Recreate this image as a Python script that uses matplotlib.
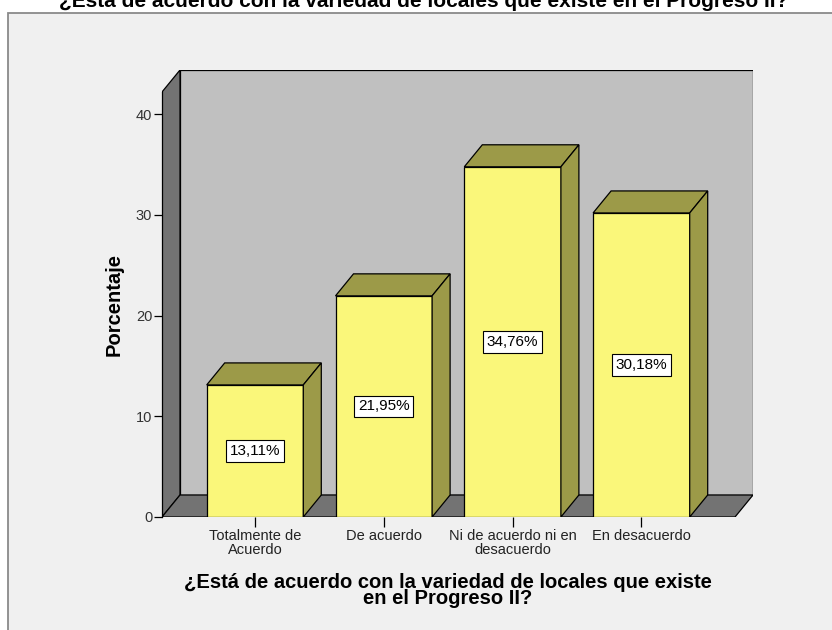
"""3D-style SPSS bar chart: agreement with the variety of shops in Progreso II."""

import matplotlib

matplotlib.use("Agg")
import matplotlib.pyplot as plt
from matplotlib.patches import Polygon, Rectangle

plt.rcParams["font.family"] = ["Liberation Sans", "DejaVu Sans"]

categories = [
    "Totalmente de\nAcuerdo",
    "De acuerdo",
    "Ni de acuerdo ni en\ndesacuerdo",
    "En desacuerdo",
]
percentages = [13.11, 21.95, 34.76, 30.18]
value_labels = ["13,11%", "21,95%", "34,76%", "30,18%"]
y_ticks = [0, 10, 20, 30, 40]

TITLE = "¿Está de acuerdo con la variedad de locales que existe en el Progreso II?"
X_TITLE = "¿Está de acuerdo con la variedad de locales que existe\nen el Progreso II?"

COLORS = {
    "frame_bg": "#F0F0F0",
    "frame_edge": "#8A8A8A",
    "back_wall": "#C0C0C0",
    "side_wall": "#737373",
    "bar_front": "#FAF77A",
    "bar_shade": "#9C9A48",
}

W, H = 832, 630
# frame of the 3D box in pixels
LEFT, RIGHT, BOTTOM, TOP = 162, 753, 517, 70
PX_PER_CAT = 128.8
PX_PER_UNIT = 10.075
FIRST_CAT_PX = 255
DEPTH_PX = (18, 22)
BAR_WIDTH = 0.75


def _poly(ax, pts, color, lw=0.9, z=1):
    ax.add_patch(Polygon(pts, closed=True, facecolor=color, edgecolor="black",
                         linewidth=lw, joinstyle="miter", zorder=z))


def main() -> None:
    fig = plt.figure(figsize=(W / 100, H / 100), dpi=100)
    fig.patch.set_facecolor("white")

    fig.patches.append(Rectangle(
        (8 / W, -0.02), 1.0, 1 - 13 / H + 0.02, transform=fig.transFigure,
        facecolor=COLORS["frame_bg"], edgecolor=COLORS["frame_edge"],
        linewidth=1.3, zorder=-1,
    ))

    ax = fig.add_axes([LEFT / W, (H - BOTTOM) / H, (RIGHT - LEFT) / W, (BOTTOM - TOP) / H])
    ax.set_zorder(2)
    x0 = (LEFT - FIRST_CAT_PX) / PX_PER_CAT
    x1 = (RIGHT - FIRST_CAT_PX) / PX_PER_CAT
    y1 = (BOTTOM - TOP) / PX_PER_UNIT
    ax.set_xlim(x0, x1)
    ax.set_ylim(0, y1)
    ax.patch.set_visible(False)

    dx = DEPTH_PX[0] / PX_PER_CAT
    dy = DEPTH_PX[1] / PX_PER_UNIT
    front_right = x1 - dx
    front_top = y1 - dy

    # back wall, left wall and floor
    _poly(ax, [(x0 + dx, dy), (x1, dy), (x1, y1), (x0 + dx, y1)], COLORS["back_wall"])
    _poly(ax, [(x0, 0), (x0 + dx, dy), (x0 + dx, y1), (x0, front_top)], COLORS["side_wall"])
    _poly(ax, [(x0, 0), (front_right, 0), (x1, dy), (x0 + dx, dy)], COLORS["side_wall"])

    for i, (val, lab) in enumerate(zip(percentages, value_labels)):
        left = i - BAR_WIDTH / 2
        right = i + BAR_WIDTH / 2
        _poly(ax, [(left, 0), (right, 0), (right, val), (left, val)], COLORS["bar_front"], z=2)
        _poly(ax, [(left, val), (left + dx, val + dy), (right + dx, val + dy), (right, val)],
              COLORS["bar_shade"], z=2)
        _poly(ax, [(right, 0), (right + dx, dy), (right + dx, val + dy), (right, val)],
              COLORS["bar_shade"], z=2)
        ax.text(i, val / 2, lab, ha="center", va="center", fontsize=11, zorder=3,
                bbox=dict(boxstyle="square,pad=0.25", facecolor="white",
                          edgecolor="black", linewidth=0.8))

    for side in ("top", "right", "bottom"):
        ax.spines[side].set_visible(False)
    ax.spines["left"].set_bounds(0, front_top)
    ax.spines["left"].set_linewidth(0.9)

    ax.set_yticks(y_ticks)
    ax.set_xticks(range(len(categories)))
    ax.set_xticklabels(categories, linespacing=0.95)
    ax.tick_params(axis="y", direction="out", length=6, width=0.9, pad=1,
                   labelsize=10.5, labelcolor="#333333")
    ax.tick_params(axis="x", direction="out", length=7, width=0.9, pad=2,
                   labelsize=10.5, labelcolor="#222222")

    ax.set_ylabel("Porcentaje", fontsize=14.5, fontweight="bold")
    ax.yaxis.set_label_coords((124 - LEFT) / (RIGHT - LEFT), (BOTTOM - 305) / (BOTTOM - TOP))

    fig.text(448 / W, 1 - 590 / H, X_TITLE, ha="center", va="center",
             fontsize=14.5, fontweight="bold", linespacing=0.8)
    fig.text(424 / W, 1 - 7 / H, TITLE, ha="center", va="baseline",
             fontsize=15, fontweight="bold")

    fig.savefig("out.png", dpi=100)
    plt.close(fig)


if __name__ == "__main__":
    main()
